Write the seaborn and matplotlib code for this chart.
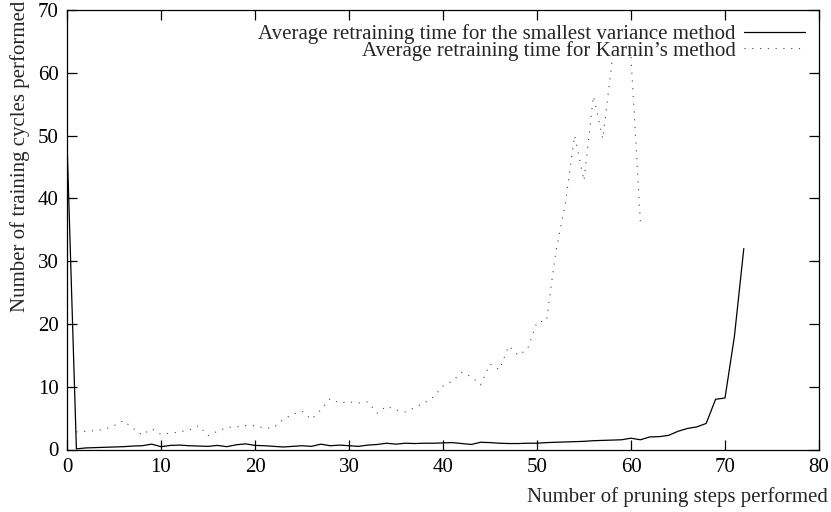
import numpy as np
import pandas as pd
import matplotlib
matplotlib.use("Agg")
import matplotlib.pyplot as plt
import seaborn as sns

# ---- data ----
steps_sv = list(range(0, 73))
smallest_variance = [
    49.0, 0.1, 0.25, 0.3, 0.35, 0.4, 0.45, 0.55, 0.6, 0.85,
    0.45, 0.65, 0.7, 0.6, 0.55, 0.5, 0.65, 0.45, 0.75, 0.9,
    0.65, 0.6, 0.5, 0.4, 0.5, 0.6, 0.5, 0.85, 0.6, 0.7,
    0.6, 0.5, 0.7, 0.8, 1.0, 0.85, 1.0, 0.95, 1.0, 1.0,
    1.05, 1.1, 0.95, 0.8, 1.15, 1.1, 1.0, 0.95, 0.95, 1.0,
    1.0, 1.1, 1.15, 1.2, 1.25, 1.3, 1.4, 1.45, 1.5, 1.55,
    1.8, 1.55, 2.0, 2.05, 2.25, 2.9, 3.35, 3.6, 4.15, 8.0,
    8.2, 18.0, 32.0,
]

steps_karnin = list(range(1, 62))
karnin = [
    2.8, 2.9, 3.0, 3.2, 3.8, 4.6, 3.4, 2.3, 3.3, 2.4,
    2.6, 2.8, 3.1, 3.8, 2.2, 2.9, 3.5, 3.6, 3.8, 3.8,
    3.4, 3.5, 4.8, 5.6, 6.1, 4.8, 6.3, 8.1, 7.4, 7.6,
    7.4, 7.6, 5.8, 6.9, 6.3, 6.0, 6.7, 7.4, 8.4, 10.1,
    10.9, 12.3, 11.6, 10.3, 13.6, 12.7, 16.5, 15.0, 16.0, 20.3,
    20.5, 31.5, 39.0, 50.0, 42.8, 56.3, 49.5, 62.0, np.nan, 62.5,
    36.2,
]

x_ticks = [0, 10, 20, 30, 40, 50, 60, 70, 80]
y_ticks = [0, 10, 20, 30, 40, 50, 60, 70]

label_sv = "Average retraining time for the smallest variance method"
label_karnin = "Average retraining time for Karnin\u2019s method"
xlabel = "Number of pruning steps performed"
ylabel = "Number of training cycles performed"

# ---- build frames ----
df_sv = pd.DataFrame({"step": steps_sv, "cycles": smallest_variance})
df_k = pd.DataFrame({"step": steps_karnin, "cycles": karnin})
# split Karnin series at the unreadable (off-chart) point
df_k["seg"] = df_k["cycles"].isna().cumsum()
df_k = df_k.dropna()

FS = 15

sns.set_theme(style="ticks")
plt.rcParams["font.family"] = ["Liberation Serif", "DejaVu Serif"]
plt.rcParams["font.size"] = FS

fig = plt.figure(figsize=(8.31, 5.12), dpi=100)
ax = fig.add_axes([67 / 831, 1 - 449.5 / 512, (819 - 67) / 831, (449.5 - 10) / 512])

sns.lineplot(data=df_sv, x="step", y="cycles", ax=ax, color="black",
             linewidth=0.9, estimator=None, legend=False)
sns.lineplot(data=df_k, x="step", y="cycles", units="seg", estimator=None,
             ax=ax, color="#444444", linewidth=0.8, linestyle=(0, (1, 6)),
             legend=False)

ax.set_xlim(0, 80)
ax.set_ylim(0, 70)
ax.set_xticks(x_ticks)
ax.set_yticks(y_ticks)
ax.tick_params(direction="in", length=7, width=0.9, top=True, right=True,
               labelsize=FS, colors="black", pad=6)
for s in ax.spines.values():
    s.set_visible(True)
    s.set_color("black")
    s.set_linewidth(0.9)
ax.set_xlabel("")
ax.set_ylabel("")

fig.text(828 / 831, 1 - 497 / 512, xlabel, ha="right", va="center", fontsize=FS)
fig.text(20 / 831, 1 - 1 / 512, ylabel, ha="center", va="top", rotation=90,
         fontsize=FS)

leg = ax.legend([ax.lines[0], ax.lines[1]], [label_sv, label_karnin],
                loc="upper right", bbox_to_anchor=(815 / 831, 1 - 14 / 512),
                bbox_transform=fig.transFigure, frameon=False,
                markerfirst=False, borderpad=0, labelspacing=-0.17,
                handlelength=2.9, handletextpad=0.4, fontsize=FS)

fig.savefig("out.png", dpi=100)
